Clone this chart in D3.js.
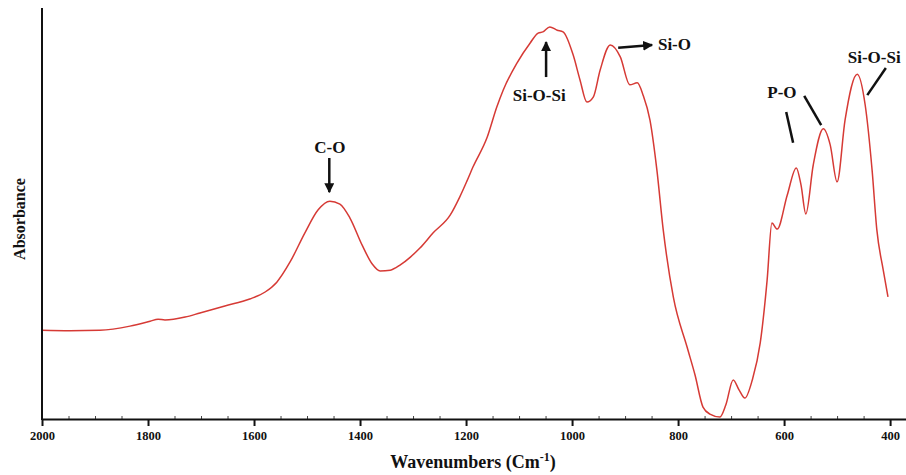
<!DOCTYPE html>
<html>
<head>
<meta charset="utf-8">
<script src="https://cdn.jsdelivr.net/npm/d3@7"></script>
<style>
    body { margin: 0; background: #fff; }
    text { font-family: "Liberation Serif", "DejaVu Serif", serif; font-weight: bold; fill: #111; }
</style>
</head>
<body>
<div id="viz"></div>
<script>
// FTIR spectrum (arbitrary absorbance units)
const wavenumbers = [2000, 1947, 1891, 1834, 1796, 1781, 1768, 1730, 1702, 1655, 1608, 1579, 1557,
    1532, 1504, 1479, 1457, 1438, 1419, 1396, 1377, 1362, 1343, 1324, 1305, 1287, 1262, 1230, 1212, 1198, 1187,
    1160, 1142, 1130, 1104, 1079, 1064, 1055, 1042, 1028, 1017, 998, 985, 972, 960, 947, 928, 909,
    891, 877, 866, 853, 840, 828, 809, 783, 768, 753, 740, 721, 710, 696, 685, 674, 660, 645, 632,
    623, 613, 594, 577, 568, 559, 545, 526, 513, 500, 485, 462, 447, 434, 425, 413, 404];
const absorbance = [0.216, 0.215, 0.216, 0.226, 0.238, 0.243, 0.241, 0.248, 0.258, 0.275, 0.292, 0.309, 0.333,
    0.382, 0.453, 0.509, 0.530, 0.523, 0.489, 0.423, 0.377, 0.360, 0.362, 0.375, 0.394, 0.416, 0.453, 0.496, 0.540, 0.580, 0.613,
    0.686, 0.759, 0.800, 0.866, 0.915, 0.939, 0.942, 0.954, 0.946, 0.942, 0.886, 0.825, 0.771, 0.783, 0.849, 0.910, 0.881,
    0.813, 0.818, 0.788, 0.727, 0.606, 0.460, 0.297, 0.175, 0.107, 0.029, 0.012, 0.005, 0.034, 0.095, 0.071, 0.051, 0.095, 0.185, 0.338,
    0.477, 0.462, 0.545, 0.611, 0.569, 0.499, 0.618, 0.706, 0.667, 0.577, 0.727, 0.839, 0.764, 0.606, 0.460, 0.363, 0.297];

const xTicks = [2000, 1800, 1600, 1400, 1200, 1000, 800, 600, 400];

// peak labels, in data units: text spot and pointer [w1, a1, w2, a2]
const peakLabels = ['C-O', 'Si-O-Si', 'Si-O', 'P-O', 'Si-O-Si'];
const labelSpots = [[1457, 0.647], [1062, 0.774], [838, 0.898], [604, 0.781], [430, 0.866]];
const pointers = [
    [[1458, 0.635, 1458, 0.552]],
    [[1049, 0.832, 1049, 0.917]],
    [[913, 0.903, 849, 0.910]],
    [[596, 0.747, 583, 0.672], [562, 0.786, 530, 0.715]],
    [[408, 0.854, 443, 0.788]]
];
const pointerHeads = [true, true, true, false, false];

const width = 906;
const height = 475;
const margin = { top: 8, right: 0, bottom: 56, left: 42 };

const data = wavenumbers.map((w, i) => ({ w: w, a: absorbance[i] }));

const svg = d3.select('#viz')
              .append('svg')
              .attr('width', width)
              .attr('height', height);

const xScale = d3.scaleLinear().domain([2000, 370]).range([margin.left, width - margin.right]);
const yScale = d3.scaleLinear().domain([0, 1]).range([height - margin.bottom, margin.top]);

svg.append('defs').append('marker')
   .attr('id', 'head')
   .attr('viewBox', '0 0 10 10')
   .attr('refX', 9)
   .attr('refY', 5)
   .attr('markerWidth', 4)
   .attr('markerHeight', 4)
   .attr('orient', 'auto')
   .append('path')
   .attr('d', 'M0,0 L10,5 L0,10 z')
   .attr('fill', '#111');

// spectrum
const line = d3.line()
               .x(d => xScale(d.w))
               .y(d => yScale(d.a))
               .curve(d3.curveMonotoneX);

svg.append('path')
   .datum(data)
   .attr('d', line)
   .attr('fill', 'none')
   .attr('stroke', '#d63a35')
   .attr('stroke-width', 1.5);

// axes
const y0 = height - margin.bottom;
const minor = d3.range(1950, 370, -50).filter(v => v % 200 !== 0);
svg.append('g')
   .attr('transform', 'translate(0,' + y0 + ')')
   .call(d3.axisBottom(xScale).tickValues(minor).tickSize(-3).tickFormat(''))
   .call(g => g.select('.domain').remove())
   .call(g => g.selectAll('line').attr('stroke', '#444').attr('stroke-width', 1));

const xAxis = d3.axisBottom(xScale).tickValues(xTicks).tickSize(7).tickSizeOuter(0).tickPadding(5).tickFormat(d3.format('d'));
svg.append('g')
   .attr('id', 'x-axis')
   .attr('transform', 'translate(0,' + y0 + ')')
   .call(xAxis)
   .attr('font-family', null)
   .call(g => g.select('.domain').attr('stroke', '#111').attr('stroke-width', 2))
   .call(g => g.selectAll('.tick line').attr('stroke', '#111').attr('stroke-width', 2))
   .call(g => g.selectAll('.tick text').attr('font-size', 12.5).attr('fill', '#111'));

svg.append('line')
   .attr('x1', margin.left).attr('x2', margin.left)
   .attr('y1', margin.top).attr('y2', y0 + 1)
   .attr('stroke', '#111')
   .attr('stroke-width', 2);

// axis titles
const xTitle = svg.append('text')
                  .attr('x', 473)
                  .attr('y', 468)
                  .attr('text-anchor', 'middle')
                  .attr('font-size', 18);
xTitle.append('tspan').text('Wavenumbers (Cm');
xTitle.append('tspan').attr('font-size', 12).attr('dy', -7).text('-1');
xTitle.append('tspan').attr('dy', 7).text(')');

svg.append('text')
   .attr('transform', 'translate(25,219) rotate(-90)')
   .attr('text-anchor', 'middle')
   .attr('font-size', 16)
   .text('Absorbance');

// peak annotations
peakLabels.forEach((label, i) => {
    svg.append('text')
       .attr('x', xScale(labelSpots[i][0]))
       .attr('y', yScale(labelSpots[i][1]))
       .attr('text-anchor', label === 'Si-O' ? 'start' : 'middle')
       .attr('font-size', 17)
       .text(label);
    pointers[i].forEach(p => {
        svg.append('line')
           .attr('x1', xScale(p[0])).attr('y1', yScale(p[1]))
           .attr('x2', xScale(p[2])).attr('y2', yScale(p[3]))
           .attr('stroke', '#111')
           .attr('stroke-width', 2.5)
           .attr('marker-end', pointerHeads[i] ? 'url(#head)' : null);
    });
});
</script>
</body>
</html>
